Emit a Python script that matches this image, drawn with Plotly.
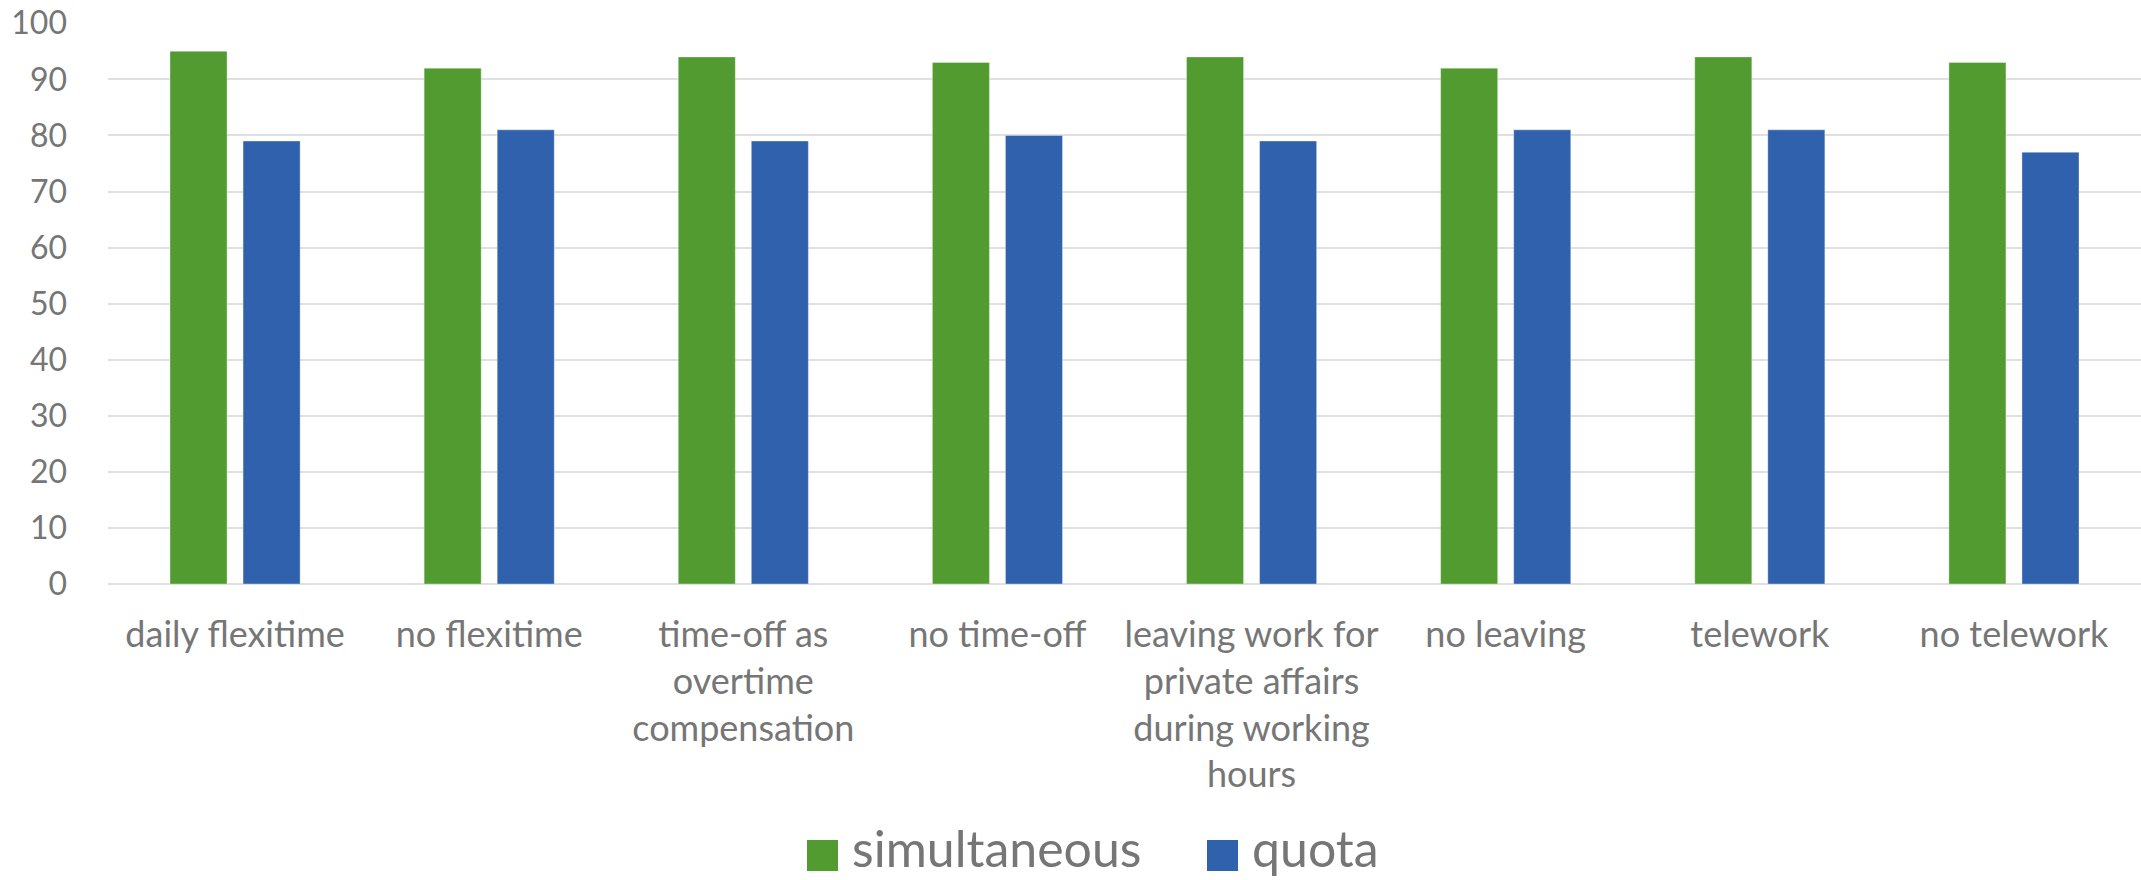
import plotly.graph_objects as go

categories = [
    "daily flexitime",
    "no flexitime",
    "time-off as<br>overtime<br>compensation",
    "no time-off",
    "leaving work for<br>private affairs<br>during working<br>hours",
    "no leaving",
    "telework",
    "no telework",
]
simultaneous = [95, 92, 94, 93, 94, 92, 94, 93]
quota = [79, 81, 79, 80, 79, 81, 81, 77]
y_ticks = [0, 10, 20, 30, 40, 50, 60, 70, 80, 90, 100]
series_names = ["simultaneous", "quota"]

GREEN = "#529B30"
BLUE = "#3061AD"
TEXT = "#767676"
GRID = "#E0E0E0"
FONT = "Lato, sans-serif"

fig = go.Figure()
fig.add_trace(go.Bar(
    name=series_names[0], x=categories, y=simultaneous, showlegend=False,
    marker=dict(color=GREEN, line=dict(color="rgba(255,255,255,0.35)", width=1)),
))
fig.add_trace(go.Bar(
    name=series_names[1], x=categories, y=quota, showlegend=False,
    marker=dict(color=BLUE, line=dict(color="rgba(255,255,255,0.35)", width=1)),
))

# manual legend with large square swatches, as in the reference
PLOT_L, PLOT_W, PLOT_B, PLOT_H = 108, 2033, 584, 561
def px(x):
    return (x - PLOT_L) / PLOT_W
def py(y):
    return (PLOT_B - y) / PLOT_H

legend_items = [(series_names[0], GREEN, 807), (series_names[1], BLUE, 1207)]
for name, col, x0 in legend_items:
    fig.add_shape(type="rect", xref="paper", yref="paper",
                  x0=px(x0), x1=px(x0 + 31), y0=py(871), y1=py(840),
                  fillcolor=col, line=dict(width=0))
    fig.add_annotation(xref="paper", yref="paper", x=px(x0 + 44), y=py(848),
                       xanchor="left", yanchor="middle", showarrow=False,
                       borderpad=0,
                       text=name, font=dict(size=50, color=TEXT, family=FONT))

fig.update_layout(
    width=2141, height=880,
    margin=dict(l=108, r=0, t=23, b=296),
    paper_bgcolor="white", plot_bgcolor="white",
    barmode="group", bargap=0.425, bargroupgap=0.219,
    font=dict(family=FONT, color=TEXT, size=32),
    xaxis=dict(
        showgrid=False, showline=False, ticks="", tickangle=0,
        tickfont=dict(size=36, color=TEXT, family=FONT), ticklabelstandoff=26,
    ),
    yaxis=dict(
        range=[0, 100.05], tickvals=y_ticks, showgrid=True, gridcolor=GRID, gridwidth=2,
        zeroline=True, zerolinecolor=GRID, zerolinewidth=2, showline=False, ticks="",
        tickfont=dict(size=32, color=TEXT, family=FONT), ticklabelstandoff=40,
    ),
)

fig.write_html("out.html")
